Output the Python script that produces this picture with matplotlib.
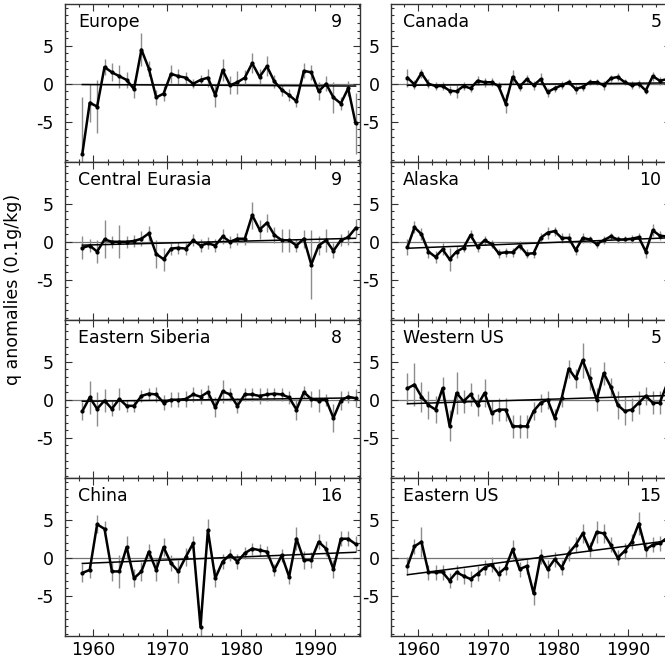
import numpy as np
import matplotlib
matplotlib.use('Agg')
import matplotlib.pyplot as plt
from matplotlib.ticker import MultipleLocator

plt.rcParams['font.family'] = ['DejaVu Sans']

years = np.arange(1958, 1996)

regions = ['Europe', 'Canada', 'Central Eurasia', 'Alaska',
           'Eastern Siberia', 'Western US', 'China', 'Eastern US']
n_stations = [9, 5, 9, 10, 8, 5, 16, 15]

europe = [-9.2, -2.5, -3.0, 2.2, 1.5, 1.0, 0.5, -0.7, 4.5, 2.0, -1.8, -1.3, 1.3, 1.0, 0.8, 0.0,
          0.5, 0.8, -1.5, 1.8, -0.2, 0.2, 0.8, 2.7, 0.9, 2.3, 0.3, -0.8, -1.5, -2.3, 1.7, 1.5,
          -1.0, 0.0, -1.8, -2.6, -0.6, -5.2]
canada = [0.8, -0.1, 1.4, 0.0, -0.3, -0.3, -0.9, -1.0, -0.3, -0.6, 0.4, 0.2, 0.2, -0.3, -2.6, 0.9,
          -0.4, 0.6, -0.2, 0.6, -1.1, -0.6, -0.2, 0.2, -0.7, -0.4, 0.2, 0.2, -0.2, 0.7, 0.9, 0.2,
          -0.2, 0.0, -0.9, 1.0, 0.4, 0.6]
central_eurasia = [-0.8, -0.5, -1.3, 0.3, 0.0, 0.0, 0.0, 0.1, 0.4, 1.1, -1.6, -2.3, -0.9, -0.8, -0.9, 0.2,
                   -0.5, -0.2, -0.5, 0.7, 0.0, 0.4, 0.4, 3.5, 1.6, 2.5, 0.9, 0.2, 0.2, -0.5, 0.4, -3.0,
                   -0.5, 0.2, -1.2, 0.2, 0.6, 1.8]
alaska = [-0.7, 1.9, 1.0, -1.3, -2.0, -1.0, -2.3, -1.3, -0.8, 0.9, -0.7, 0.2, -0.3, -1.5, -1.4, -1.4,
          -0.5, -1.6, -1.5, 0.5, 1.2, 1.4, 0.5, 0.5, -1.1, 0.5, 0.3, -0.3, 0.2, 0.7, 0.3, 0.3,
          0.4, 0.6, -1.3, 1.5, 0.8, 0.7]
eastern_siberia = [-1.5, 0.3, -1.2, -0.1, -1.2, 0.1, -0.8, -0.8, 0.5, 0.8, 0.7, -0.4, 0.0, 0.0, 0.1, 0.7,
                   0.4, 1.0, -1.0, 1.1, 0.7, -0.8, 0.7, 0.7, 0.5, 0.7, 0.8, 0.7, 0.3, -1.3, 1.0, 0.1,
                   -0.1, 0.0, -2.4, -0.1, 0.4, 0.2]
western_us = [1.5, 2.0, 0.4, -0.7, -1.3, 1.5, -3.4, 0.9, -0.2, 0.7, -0.7, 0.9, -1.7, -1.3, -1.3, -3.5,
              -3.5, -3.5, -1.5, -0.4, 0.0, -2.4, 0.2, 4.1, 2.8, 5.2, 2.8, 0.0, 3.5, 1.7, -0.7, -1.5,
              -1.3, -0.4, 0.5, -0.4, -0.4, 2.0]
china = [-2.0, -1.6, 4.4, 3.8, -1.8, -1.8, 1.4, -2.7, -1.8, 0.8, -1.6, 1.4, -0.7, -1.8, 0.1, 1.9,
         -9.1, 3.6, -2.7, -0.5, 0.4, -0.5, 0.6, 1.2, 1.0, 0.8, -1.6, 0.3, -2.5, 2.5, -0.3, -0.3,
         2.1, 1.2, -1.5, 2.5, 2.5, 1.8]
eastern_us = [-1.1, 1.5, 2.1, -1.9, -1.9, -1.9, -3.0, -1.9, -2.4, -2.8, -2.1, -1.3, -0.9, -2.1, -1.3, 1.1,
              -1.5, -1.1, -4.7, 0.2, -1.5, -0.2, -1.3, 0.6, 1.7, 3.2, 1.1, 3.4, 3.2, 1.7, 0.0, 0.9,
              2.1, 4.5, 1.1, 1.7, 1.9, 2.6]

# half-length of the error bars
europe_err = [7.5, 2.5, 3.5, 1.0, 1.2, 1.5, 1.0, 1.2, 2.2, 1.0, 1.0, 1.0, 1.2, 1.0, 0.8, 0.6,
              0.6, 1.2, 1.5, 1.5, 1.2, 1.5, 1.0, 1.3, 1.0, 1.3, 0.8, 0.8, 0.8, 0.8, 1.0, 1.0,
              1.2, 1.0, 2.0, 0.8, 1.0, 4.0]
canada_err = [1.2, 0.6, 0.6, 0.6, 0.5, 0.5, 0.6, 0.9, 0.5, 0.5, 0.6, 0.6, 0.5, 0.5, 1.2, 0.9,
              0.5, 0.6, 0.6, 0.8, 0.6, 0.5, 0.5, 0.4, 0.6, 0.5, 0.4, 0.4, 0.6, 0.5, 0.5, 0.4,
              0.5, 0.5, 0.5, 0.6, 0.5, 0.6]
central_eurasia_err = [1.5, 0.8, 1.5, 2.5, 0.8, 2.2, 0.8, 0.8, 1.0, 1.0, 1.8, 1.5, 0.8, 0.8, 0.8, 0.8,
                       0.8, 0.8, 0.8, 1.0, 0.8, 0.8, 0.8, 1.8, 1.2, 1.2, 1.0, 1.5, 1.5, 0.8, 1.2, 4.5,
                       1.2, 1.5, 1.0, 0.8, 1.0, 1.2]
alaska_err = [1.0, 0.8, 0.8, 0.8, 0.8, 0.8, 1.5, 0.8, 0.6, 0.6, 0.6, 0.6, 0.5, 0.6, 0.6, 0.6,
              0.6, 0.6, 0.6, 0.6, 0.8, 0.6, 0.6, 0.6, 0.6, 0.6, 0.5, 0.5, 0.5, 0.5, 0.5, 0.5,
              0.5, 0.5, 0.8, 0.8, 0.6, 0.6]
eastern_siberia_err = [1.2, 2.2, 2.2, 1.5, 1.0, 1.5, 0.8, 0.8, 0.8, 0.8, 1.0, 1.0, 1.0, 1.0, 1.0, 1.0,
                       1.0, 1.0, 1.3, 1.5, 0.8, 1.0, 0.8, 0.8, 1.0, 0.8, 0.8, 0.8, 0.8, 1.3, 0.8, 1.0,
                       1.5, 0.8, 1.8, 1.2, 0.8, 1.2]
western_us_err = [2.0, 2.8, 2.0, 1.8, 1.8, 1.5, 2.0, 2.8, 1.5, 1.5, 1.5, 1.8, 1.5, 1.5, 1.5, 1.5,
                  1.5, 1.5, 1.2, 1.2, 1.2, 1.2, 1.2, 1.2, 1.2, 2.3, 1.5, 1.5, 1.5, 1.2, 1.8, 1.8,
                  1.5, 1.5, 1.2, 1.5, 1.5, 1.2]
china_err = [1.2, 1.0, 1.2, 1.0, 1.2, 2.2, 1.5, 1.2, 1.2, 1.0, 1.5, 1.2, 1.0, 1.5, 1.2, 1.0,
             1.5, 1.5, 1.2, 1.0, 0.8, 1.0, 0.8, 0.8, 0.8, 0.8, 0.8, 0.8, 1.0, 1.5, 1.2, 1.0,
             1.0, 1.0, 1.2, 1.0, 1.0, 1.0]
eastern_us_err = [1.2, 1.0, 2.0, 1.0, 1.0, 1.0, 1.0, 1.0, 1.0, 1.0, 1.0, 1.0, 1.0, 1.0, 1.0, 1.2,
                  1.0, 1.0, 1.5, 1.0, 1.2, 1.0, 1.0, 1.0, 1.0, 1.2, 1.0, 1.5, 1.2, 1.0, 1.0, 1.0,
                  1.0, 1.5, 1.0, 1.0, 1.0, 1.0]

series = [europe, canada, central_eurasia, alaska, eastern_siberia, western_us, china, eastern_us]
errors = [europe_err, canada_err, central_eurasia_err, alaska_err,
          eastern_siberia_err, western_us_err, china_err, eastern_us_err]

W, H = 665, 666
fig = plt.figure(figsize=(W / 100, H / 100), dpi=100)

col_left = [65, 391]
col_width = [295, 280]
row_top = 4
row_h = 158
fs = 12.5

for i, name in enumerate(regions):
    row, col = divmod(i, 2)
    x0 = col_left[col] / W
    y0 = 1 - (row_top + row_h * (row + 1)) / H
    ax = fig.add_axes([x0, y0, col_width[col] / W, row_h / H])

    xs = years + 0.5
    vals = np.array(series[i])
    errs = np.array(errors[i])

    ax.axhline(0, color='0.45', lw=0.9, zorder=1)
    ax.vlines(xs, vals - errs, vals + errs, color='0.55', lw=1.0, zorder=2)
    slope, icpt = np.polyfit(xs, vals, 1)
    ax.plot([xs[0], xs[-1]], [slope * xs[0] + icpt, slope * xs[-1] + icpt],
            color='black', lw=1.1, zorder=3)
    ax.plot(xs, vals, color='black', lw=1.8, marker='o', ms=2, zorder=4)

    ax.set_xlim(1956.15, 1996.1)
    ax.set_ylim(-10.3, 10.5)
    ax.set_yticks([-5, 0, 5])
    ax.set_yticklabels(['-5', '0', '5'])
    ax.yaxis.set_minor_locator(MultipleLocator(1))
    ax.xaxis.set_major_locator(MultipleLocator(10))
    ax.xaxis.set_minor_locator(MultipleLocator(2))
    ax.tick_params(which='both', direction='in', top=True, right=True,
                   labelsize=fs, width=0.8, color='0.2')
    ax.tick_params(which='major', length=5)
    ax.tick_params(which='minor', length=2.5)
    ax.tick_params(axis='y', pad=8)
    if row < 3:
        ax.tick_params(labelbottom=False)
    for sp in ax.spines.values():
        sp.set_linewidth(1.0)
        sp.set_color('0.2')

    ax.text(0.044, 0.885, name, transform=ax.transAxes, fontsize=fs,
            ha='left', va='center')
    ax.text(0.94 if col == 0 else 0.965, 0.885, str(n_stations[i]),
            transform=ax.transAxes, fontsize=fs, ha='right', va='center')

fig.text(0.02, 0.565, 'q anomalies (0.1g/kg)', rotation=90, fontsize=fs,
         ha='center', va='center')

fig.savefig('out.png', dpi=100)
